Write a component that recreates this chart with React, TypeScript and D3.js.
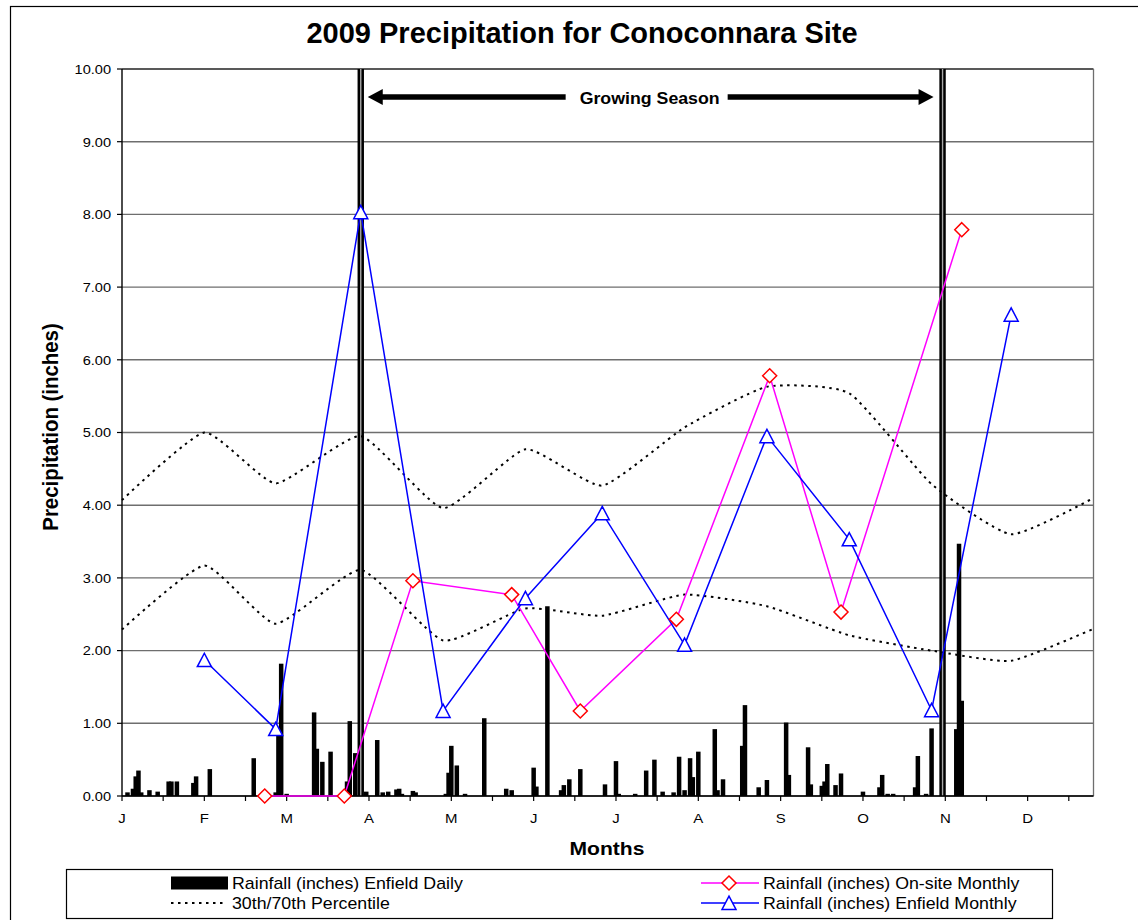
import React from "react";
import * as d3 from "d3";

// ---------- data ----------
const monthLabels = ["J", "F", "M", "A", "M", "J", "J", "A", "S", "O", "N", "D"];
const yTickValues = [0, 1, 2, 3, 4, 5, 6, 7, 8, 9, 10];

// Enfield daily rainfall (day index, inches)
const dailyDays = [
  2, 4, 5, 6, 7, 10, 13, 17, 18, 20, 26, 27, 32, 48, 56, 57, 58, 60, 70, 71, 73, 76, 82, 83, 85,
  89, 93, 95, 97, 100, 101, 102, 106, 107, 118, 119, 120, 122, 125, 132, 140, 142, 150, 151, 155,
  160, 161, 163, 167, 176, 180, 181, 187, 191, 194, 197, 201, 203, 205, 207, 208, 210, 216, 217,
  219, 226, 227, 232, 235, 242, 243, 250, 251, 255, 256, 257, 260, 262, 270, 276, 277, 279, 281,
  289, 290, 293, 295, 304, 305, 306,
];
const dailyRain = [
  0.05, 0.1, 0.27, 0.35, 0.05, 0.08, 0.06, 0.2, 0.2, 0.2, 0.18, 0.27, 0.37, 0.52, 0.05, 0.85, 1.82,
  0.03, 1.15, 0.65, 0.47, 0.61, 0.2, 1.03, 0.59, 0.06, 0.77, 0.05, 0.06, 0.09, 0.1, 0.03, 0.07, 0.05,
  0.03, 0.32, 0.69, 0.42, 0.03, 1.07, 0.1, 0.08, 0.39, 0.13, 2.61, 0.08, 0.15, 0.23, 0.37, 0.16, 0.48,
  0.03, 0.03, 0.35, 0.5, 0.06, 0.05, 0.54, 0.08, 0.52, 0.26, 0.61, 0.92, 0.08, 0.23, 0.69, 1.25, 0.12,
  0.22, 1.01, 0.29, 0.67, 0.16, 0.14, 0.2, 0.44, 0.15, 0.31, 0.06, 0.12, 0.29, 0.03, 0.03, 0.12, 0.55,
  0.03, 0.93, 0.92, 3.47, 1.31,
];

// 30th / 70th percentile
const percentileDays = [0, 30, 56, 87, 117, 147, 175, 205, 235, 265, 295, 324, 354];
const p70 = [4.07, 5.0, 4.3, 4.95, 3.96, 4.77, 4.27, 5.07, 5.63, 5.54, 4.29, 3.6, 4.1];
const p30 = [2.29, 3.17, 2.37, 3.11, 2.14, 2.58, 2.48, 2.77, 2.61, 2.21, 2.0, 1.86, 2.3];

// Enfield monthly
const enfieldDays = [30, 56, 87, 117, 147, 175, 205, 235, 265, 295, 324];
const enfieldMonthly = [1.87, 0.92, 8.03, 1.17, 2.72, 3.89, 2.08, 4.95, 3.53, 1.18, 6.62];

// On-site monthly
const onsiteDays = [52, 81, 106, 142, 167, 202, 236, 262, 306];
const onsiteMonthly = [0, 0, 2.96, 2.77, 1.17, 2.43, 5.78, 2.53, 7.79];

// Growing season bounds (day index)
const growingSeason = [87, 299];

const FONT = "Arial, 'Liberation Sans', Helvetica, sans-serif";
const SX = 1.11;

function SText(props: any) {
  const { x, y, size, weight, anchor, rotate, children, sx } = props;
  // horizontal (page) stretch applied before rotation
  const tr = `translate(${x},${y}) scale(${sx ?? SX},1)${rotate ? ` rotate(${rotate})` : ""}`;
  return (
    <g transform={tr}>
      <text
        x={0}
        y={0}
        fontFamily={FONT}
        fontSize={size}
        fontWeight={weight || "normal"}
        textAnchor={anchor || "start"}
        fill="#000"
      >
        {children}
      </text>
    </g>
  );
}

const triPath = "M0,-6.8L7,6.5L-7,6.5Z";
const diaPath = "M0,-7L7,0L0,7L-7,0Z";

export default function App() {
  const x = d3.scaleLinear().domain([0, 354]).range([122, 1093.5]);
  const y = d3.scaleLinear().domain([0, 10]).range([796, 69]);
  const left = x(0);
  const right = x(354);
  const top = y(10);
  const bottom = y(0);

  const smooth = d3
    .line<[number, number]>()
    .x((d) => x(d[0]))
    .y((d) => y(d[1]))
    .curve(d3.curveCardinal.tension(0.5));
  const straight = d3
    .line<[number, number]>()
    .x((d) => x(d[0]))
    .y((d) => y(d[1]));

  const p70Pts = percentileDays.map((d, i) => [d, p70[i]] as [number, number]);
  const p30Pts = percentileDays.map((d, i) => [d, p30[i]] as [number, number]);
  const enfPts = enfieldDays.map((d, i) => [d, enfieldMonthly[i]] as [number, number]);
  const onsPts = onsiteDays.map((d, i) => [d, onsiteMonthly[i]] as [number, number]);

  const minorTicks = d3.range(0, 354, 15);
  const gx1 = x(growingSeason[0]);
  const gx2 = x(growingSeason[1]);
  const arrowY = 97;
  const midX = (gx1 + gx2) / 2;

  return (
    <svg
      width={1138}
      height={920}
      style={{ position: "absolute", left: 0, top: 0, background: "#fff" }}
    >
      <rect x={0} y={0} width={1138} height={920} fill="#fff" />
      {/* chart frame */}
      <rect x={10.5} y={6.5} width={1200} height={1000} fill="none" stroke="#000" strokeWidth={1.2} />

      {/* title */}
      <SText x={582} y={43} size={29} weight="bold" anchor="middle" sx={1.0}>
        2009 Precipitation for Conoconnara Site
      </SText>

      {/* gridlines */}
      {yTickValues.map((v) => (
        <line
          key={"g" + v}
          x1={left}
          x2={right}
          y1={y(v)}
          y2={y(v)}
          stroke={v === 10 ? "#222" : "#6e6e6e"}
          strokeWidth={1.4}
        />
      ))}
      <line x1={right} x2={right} y1={top} y2={bottom} stroke="#6e6e6e" strokeWidth={1.3} />

      {/* daily bars */}
      {dailyDays.map((d, i) => (
        <rect
          key={"b" + i}
          x={x(d) - 2.25}
          y={y(dailyRain[i])}
          width={4.5}
          height={bottom - y(dailyRain[i])}
          fill="#000"
        />
      ))}

      {/* growing season double lines */}
      {[gx1, gx2].map((gx, i) => (
        <g key={"gs" + i}>
          <rect x={gx - 3.2} y={top} width={6.4} height={bottom - top} fill="#000" />
          <line x1={gx} x2={gx} y1={top} y2={bottom} stroke="#a8a8a8" strokeWidth={1.4} />
        </g>
      ))}

      {/* axes */}
      <line x1={left} x2={left} y1={top} y2={bottom} stroke="#000" strokeWidth={1.4} />
      <line x1={left} x2={right} y1={bottom} y2={bottom} stroke="#000" strokeWidth={1.4} />
      {yTickValues.map((v) => (
        <g key={"yt" + v}>
          <line x1={left - 5} x2={left} y1={y(v)} y2={y(v)} stroke="#000" strokeWidth={1.2} />
          <SText x={111} y={y(v) + 4.8} size={13.5} anchor="end" sx={1.08}>
            {d3.format(".2f")(v)}
          </SText>
        </g>
      ))}
      {minorTicks.map((t) => (
        <line key={"xt" + t} x1={x(t)} x2={x(t)} y1={bottom} y2={bottom + 5} stroke="#000" strokeWidth={1.2} />
      ))}
      {monthLabels.map((m, i) => (
        <SText key={"m" + i} x={x(i * 30)} y={823} size={13.5} anchor="middle">
          {m}
        </SText>
      ))}

      {/* axis titles */}
      <SText x={58} y={427} size={20.4} weight="bold" anchor="middle" rotate={-90}>
        Precipitation (inches)
      </SText>
      <SText x={607} y={855} size={19} weight="bold" anchor="middle">
        Months
      </SText>

      {/* percentile dotted lines */}
      <path d={smooth(p70Pts) || ""} fill="none" stroke="#000" strokeWidth={2} strokeDasharray="2.5 4.5" />
      <path d={smooth(p30Pts) || ""} fill="none" stroke="#000" strokeWidth={2} strokeDasharray="2.5 4.5" />

      {/* on-site monthly */}
      <path d={straight(onsPts) || ""} fill="none" stroke="#ff00ff" strokeWidth={1.5} />
      {/* enfield monthly */}
      <path d={straight(enfPts) || ""} fill="none" stroke="#0000ff" strokeWidth={1.5} />
      {onsPts.map((p, i) => (
        <path
          key={"dm" + i}
          d={diaPath}
          transform={`translate(${x(p[0])},${y(p[1])})`}
          fill="#fff"
          stroke="#ff0000"
          strokeWidth={1.5}
        />
      ))}
      {enfPts.map((p, i) => (
        <path
          key={"tr" + i}
          d={triPath}
          transform={`translate(${x(p[0])},${y(p[1])})`}
          fill="#fff"
          stroke="#0000ff"
          strokeWidth={1.5}
        />
      ))}

      {/* growing season arrow */}
      <line x1={gx1 + 18} x2={midX - 86} y1={arrowY} y2={arrowY} stroke="#000" strokeWidth={5.5} />
      <path
        d={`M${gx1 + 7},${arrowY} L${gx1 + 22},${arrowY - 8} L${gx1 + 22},${arrowY + 8} Z`}
        fill="#000"
      />
      <line x1={midX + 76} x2={gx2 - 20} y1={arrowY} y2={arrowY} stroke="#000" strokeWidth={5.5} />
      <path
        d={`M${gx2 - 9},${arrowY} L${gx2 - 24},${arrowY - 8} L${gx2 - 24},${arrowY + 8} Z`}
        fill="#000"
      />
      <SText x={midX - 2} y={103.5} size={16} weight="bold" anchor="middle">
        Growing Season
      </SText>

      {/* legend */}
      <rect x={66.5} y={869.5} width={986} height={49} fill="#fff" stroke="#000" strokeWidth={1.2} />
      <rect x={171} y={876.5} width={57} height={13} fill="#000" />
      <SText x={232} y={888.5} size={16}>
        Rainfall (inches) Enfield Daily
      </SText>
      <line x1={171} x2={227} y1={903} y2={903} stroke="#000" strokeWidth={2} strokeDasharray="2.5 4.5" />
      <SText x={232} y={908.5} size={16}>
        30th/70th Percentile
      </SText>
      <line x1={701} x2={759} y1={883} y2={883} stroke="#ff00ff" strokeWidth={1.5} />
      <path d={diaPath} transform="translate(729,883)" fill="#fff" stroke="#ff0000" strokeWidth={1.5} />
      <SText x={763} y={888.5} size={16}>
        Rainfall (inches) On-site Monthly
      </SText>
      <line x1={701} x2={759} y1={903} y2={903} stroke="#0000ff" strokeWidth={1.5} />
      <path d={triPath} transform="translate(729,903)" fill="#fff" stroke="#0000ff" strokeWidth={1.5} />
      <SText x={763} y={908.5} size={16}>
        Rainfall (inches) Enfield Monthly
      </SText>
    </svg>
  );
}
